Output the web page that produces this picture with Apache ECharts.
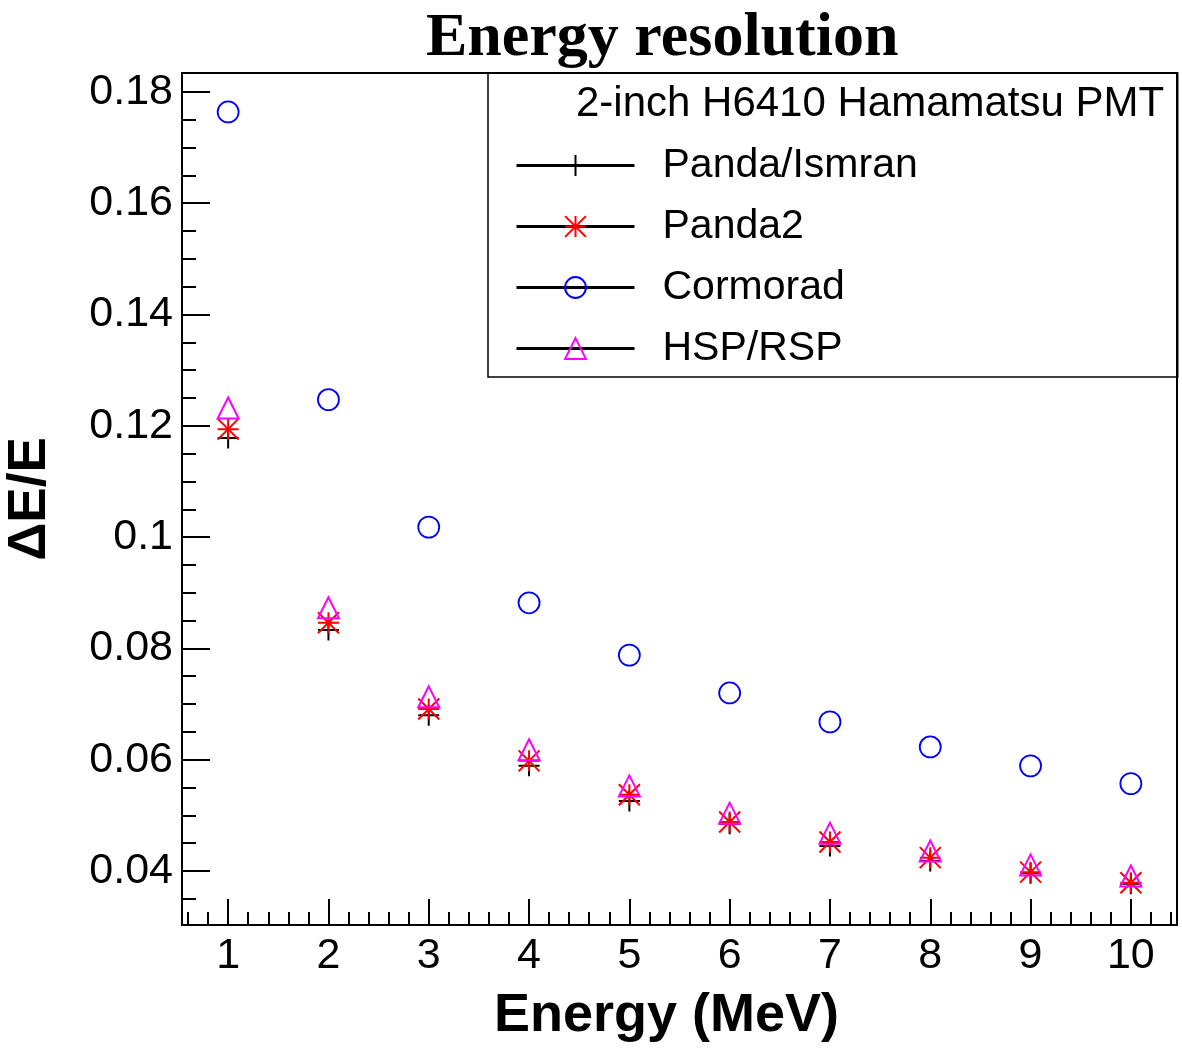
<!DOCTYPE html>
<html>
<head>
<meta charset="utf-8">
<script src="https://cdn.jsdelivr.net/npm/echarts@6/dist/echarts.min.js"></script>
<style>
  html, body { margin: 0; padding: 0; background: #fff; }
  #chart { width: 1182px; height: 1050px; }
</style>
</head>
<body>
<div id="chart"></div>
<script>
// energies (MeV) and resolution values
var energies = [1, 2, 3, 4, 5, 6, 7, 8, 9, 10];
var pandaIsmran = [0.1178, 0.0833, 0.0680, 0.0589, 0.0526, 0.0485, 0.0445, 0.0418, 0.0396, 0.0377];
var panda2 = [0.1194, 0.0846, 0.0691, 0.0598, 0.0537, 0.0488, 0.0452, 0.0424, 0.0398, 0.0379];
var cormorad = [0.1764, 0.1247, 0.1018, 0.0882, 0.0788, 0.0720, 0.0668, 0.0623, 0.0589, 0.0557];
var hspRsp = [0.1232, 0.0873, 0.0713, 0.0618, 0.0553, 0.0504, 0.0468, 0.0436, 0.0411, 0.0391];

var xMajor = [1, 2, 3, 4, 5, 6, 7, 8, 9, 10];
var yMajor = [0.04, 0.06, 0.08, 0.1, 0.12, 0.14, 0.16, 0.18];
var xMin = 0.54, xMax = 10.46;
var yMin = 0.0303, yMax = 0.1834;

// minor ticks: 5 divisions on x, 4 on y (ROOT style)
var xMinor = [];
for (var i = 3; i <= 52; i++) {
    if (i % 5 !== 0) xMinor.push(+(i * 0.2).toFixed(2));
}
var yMinor = [];
for (var j = 7; j <= 36; j++) {
    if (j % 4 !== 0) yMinor.push(+(j * 0.005).toFixed(3));
}

function pairs(vals) {
    return energies.map(function (e, k) { return [e, vals[k]]; });
}

var font = "'Liberation Sans', Arial, sans-serif";
var SYM_PLUS = 'path://M5 0L5 10M0 5L10 5';
var SYM_STAR = 'path://M0 0L10 10M10 0L0 10M5 0L5 10M0 5L10 5';
var SYM_CIRCLE = 'path://M10 5A5 5 0 1 1 0 5A5 5 0 1 1 10 5Z';
var SYM_TRI = 'path://M5 0L10 10L0 10Z';

function mkSeries(name, vals, symbol, color, bw) {
    return {
        name: name,
        type: 'line',
        data: pairs(vals),
        symbol: symbol,
        symbolSize: 21,
        lineStyle: { width: 0, opacity: 0 },
        itemStyle: { color: 'rgba(0,0,0,0)', borderColor: color, borderWidth: bw },
        emphasis: { disabled: true },
        animation: false,
        z: 3
    };
}

var chart = echarts.init(document.getElementById('chart'));
var option = {
    backgroundColor: '#fff',
    animation: false,
    title: [{
        text: 'Energy resolution',
        left: 426,
        top: 8,
        padding: 0,
        textStyle: { fontFamily: "'Liberation Serif', 'Times New Roman', serif", fontWeight: 'bold', fontSize: 62, color: '#000' }
    }, {
        text: '2-inch H6410 Hamamatsu PMT',
        left: 576,
        top: 80,
        padding: 0,
        textStyle: { fontFamily: font, fontWeight: 'normal', fontSize: 42, color: '#000', lineHeight: 48 }
    }],
    legend: {
        orient: 'vertical',
        left: 488,
        top: 73,
        padding: [72, 260, 8, 27],
        itemGap: 20,
        itemWidth: 118,
        itemHeight: 26,
        borderColor: '#000',
        borderWidth: 1.5,
        selectedMode: false,
        lineStyle: { color: '#000', width: 3, opacity: 1 },
        textStyle: { fontFamily: font, fontSize: 41, color: '#000', padding: [0, 0, 0, 23] },
        data: ['Panda/Ismran', 'Panda2', 'Cormorad', 'HSP/RSP']
    },
    grid: {
        left: 182, right: 5, top: 73, bottom: 125,
        outerBoundsMode: 'none',
        containLabel: false,
        show: true, borderColor: '#000', borderWidth: 2
    },
    xAxis: [{
        type: 'value', min: xMin, max: xMax,
        name: 'Energy (MeV)', nameLocation: 'middle', nameGap: 64,
        nameTextStyle: { fontFamily: font, fontWeight: 'bold', fontSize: 54, color: '#000', padding: [0, 26, 0, 0] },
        axisLine: { lineStyle: { color: '#000', width: 2 } },
        axisTick: { inside: true, length: 26, customValues: xMajor, lineStyle: { color: '#000', width: 2 } },
        axisLabel: { customValues: xMajor, margin: 10, fontFamily: font, fontSize: 43, color: '#000' },
        splitLine: { show: false }
    }, {
        type: 'value', min: xMin, max: xMax, position: 'bottom',
        axisLine: { show: false },
        axisTick: { inside: true, length: 13, customValues: xMinor, lineStyle: { color: '#000', width: 2 } },
        axisLabel: { show: false },
        splitLine: { show: false }
    }],
    yAxis: [{
        type: 'value', min: yMin, max: yMax,
        name: 'ΔE/E', nameLocation: 'middle', nameGap: 125, nameRotate: 90,
        nameTextStyle: { fontFamily: font, fontWeight: 'bold', fontSize: 53, color: '#000' },
        axisLine: { lineStyle: { color: '#000', width: 2 } },
        axisTick: { inside: true, length: 28, customValues: yMajor, lineStyle: { color: '#000', width: 2 } },
        axisLabel: {
            customValues: yMajor, margin: 9, fontFamily: font, fontSize: 43, color: '#000',
            formatter: function (v) { return String(+v.toFixed(3)); }
        },
        splitLine: { show: false }
    }, {
        type: 'value', min: yMin, max: yMax, position: 'left',
        axisLine: { show: false },
        axisTick: { inside: true, length: 14, customValues: yMinor, lineStyle: { color: '#000', width: 2 } },
        axisLabel: { show: false },
        splitLine: { show: false }
    }],
    series: [
        mkSeries('Panda/Ismran', pandaIsmran, SYM_PLUS, '#000', 2),
        mkSeries('Panda2', panda2, SYM_STAR, '#ff0000', 2),
        mkSeries('Cormorad', cormorad, SYM_CIRCLE, '#0000ff', 1.8),
        mkSeries('HSP/RSP', hspRsp, SYM_TRI, '#ff00ff', 2)
    ]
};
chart.setOption(option);
</script>
</body>
</html>
